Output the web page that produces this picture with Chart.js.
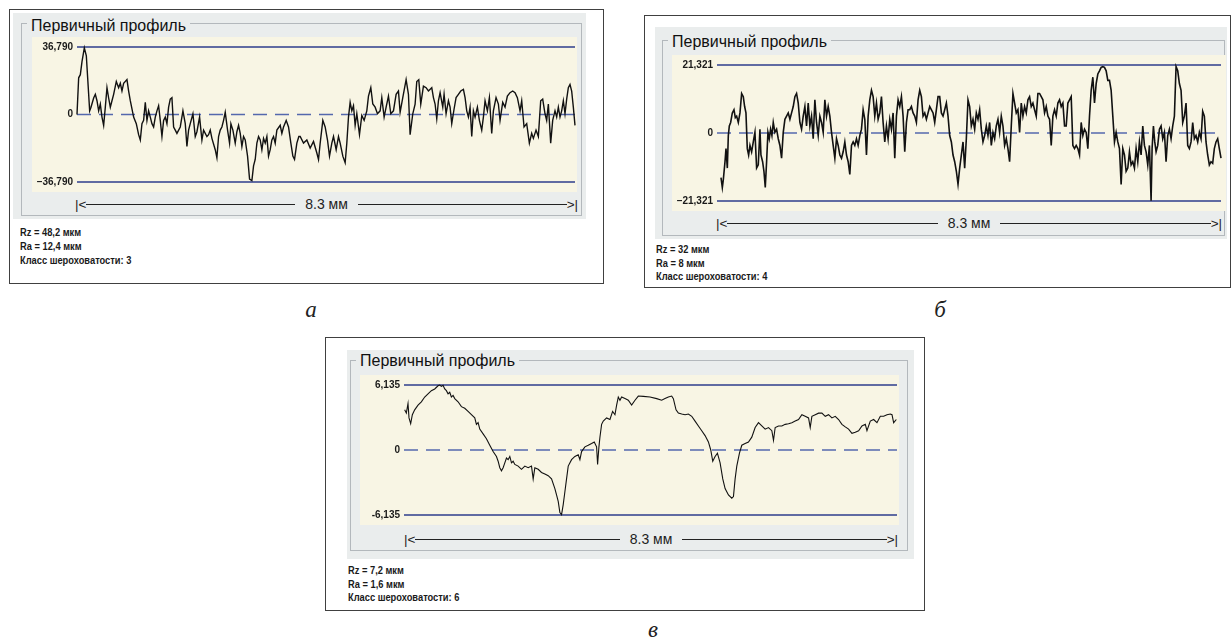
<!DOCTYPE html>
<html><head><meta charset="utf-8">
<script src="https://cdn.jsdelivr.net/npm/chart.js@4.4.1/dist/chart.umd.min.js"></script>
<style>
body{margin:0;width:1231px;height:641px;background:#fff;position:relative;overflow:hidden;font-family:"Liberation Sans",Arial,sans-serif;}
.abs{position:absolute;box-sizing:border-box;}
.outer{border:1.5px solid #404040;background:#fff;}
.grey{background:#eaeded;}
.gbox{border:1px solid #b3b8bc;}
.title{font-size:16px;line-height:18px;color:#111;background:#eaeded;padding:0 4px;white-space:nowrap;}
.cream{background:#f8f5e4;}
.stats{font-family:"Liberation Sans Narrow","Arial Narrow","Liberation Sans",sans-serif;font-weight:bold;font-size:10px;color:#1a1a1a;white-space:nowrap;transform:scaleX(0.93);transform-origin:0 0;}
.arrow{display:flex;align-items:center;font-size:13.5px;color:#222;height:16px;white-space:nowrap;}
.arrow .ln{flex:1;height:0;border-top:1.6px solid #222;}
.arrow .lbl{padding:0 10px;font-size:14px;}
.cap{font-family:"Liberation Serif","DejaVu Serif",serif;font-style:italic;font-size:23px;color:#222;text-align:center;width:30px;line-height:26px;}
canvas{position:absolute;}
</style>
</head>
<body>
<script>
// ---------- Panel а ----------
const aPos = [0,5,10,15,22,28,32,38,42,50,55,60,65,70,75,80,85,90,95,100,105,110,118,125,130,135,140,150,155,160,170,178,185,190,195,200,205,210,215,220,225,230,235,240,245,250,255,260,265,270,275,280,285,290,295,300,310,318,325,330,335,340,348,355,360,368,375,380,390,395,400,405,415,420,425,430,435,440,445,452,458,462,468,475,480,485,490,495,500,505,512,518,525,530,535,540,545,550,555,560,565,570,575,580,585,590,595,600,610,615,620,628,635,642,648,653,660,666,
670,680,690,700,710,720,725,730,738,745,752,758,765,770,778,785,790,798,805,810,815,820,825,830,835,840,848,855,862,870,875,882,888,895,902,910,915,922,928,935,942,950,958,965,970,978,988,995,1000,1008,1015,1020,1026,1032,1040,1048,1055,1065,1070,1075,1080,1085,1090,1098,1102,1108,1115,1120,1125,1132,1138,1145,1152,1160,1165,1170,1175,1180,1185,1190,1195,1202,1208,1215,1220,1225,1232,1238,1245,1250,1258,1265,1270,1278,1285,1292,1300,1308,1315,1322,1330,1335,1342,1350,1358,1365,1370,1378,1385,1392,1398,1405,1410,1415,1422,1428,1435,1440,1445,1450,1455,1460,1465,1470,1475,1480,1485,1490,1495];
const aVal = [0,20,21.7,28.8,36.3,32,20,2,4,9,11,7.5,2,5.7,-1.4,-5.9,4,14.6,9,4,7.5,11,18,14.6,17,12.8,17,19,12.8,7.5,-1.4,-5,-11,-13.9,-5,-3.2,6.6,-3.2,2,-1.4,-5,-6.8,-1.4,2,4.8,-3.2,-12,-3.2,-1.4,-5,4,8.4,9.2,-6.8,-8.5,-10.3,-6.8,2,-5,-17.4,-8.5,-5,0.4,-12,-9.4,-1.4,-13.9,-8.5,-12,-11,-8.5,-13,-19.2,-23.6,-12,-8.5,-6.8,-3.2,1.2,-8.5,-15.6,-5,-8.5,-15.6,-9.4,-5.9,-10.3,-17.4,-12,-13.9,-22.7,-35.2,-36,-28,-24.5,-15.6,-12,-13.9,-19.2,-13,-15.6,-12,-22.7,-19.2,-13.9,-12,-15.6,-8.5,-5.9,-10.3,-6.8,-3.2,-6.8,-15.6,-22.7,-24.5,-15.6,-12,
-12,-15.6,-13.9,-18.3,-14.7,-21,-24.5,-15.6,-3.2,-6.8,-13.9,-22.7,-15.6,-12,-19.2,-12,-15.6,-22.7,-26.3,-15.6,-1.4,6.6,2,4.8,-5.9,0.4,-11,-0.5,-3.2,2,10,14.6,5.7,4,0.4,2,9.2,-1.4,4,10,0.4,2,11,12.8,1.2,9.2,19,11,-11,0.4,5.7,18,19,5.7,15.5,14.6,12.8,14.6,9.2,5.7,-2.3,7.5,11.9,4,11,0.4,7.5,4,-5,3,9.2,11,12.8,13.7,9.2,2,-1.4,4,-12,2,-1.4,4,-3.2,-8.5,-1.4,7.5,2,9.2,-10.3,2,9.2,5.7,-3.2,6.6,4,10,11.9,12.8,11.9,9.2,2,7.5,-6.8,-5,-15.6,-10.3,-13,-8.5,-12,7.5,8.4,0.4,-3.2,5.7,-15.6,-3.2,2,-1.4,4,-1.4,2,7.5,0.4,8.4,14.6,16.4,12.8,4,-5.9];
const aRange = [0, 1495];
const aLimit = 36.79;
const aTickLabels = ['–36,790', '0', '36,790'];
const aStats = ['Rz = 48,2 мкм', 'Ra = 12,4 мкм', 'Класс шероховатости: 3'];

// ---------- Panel б ----------
const bPos = [0,4,7,12,15,19,22,25,29,34,39,43,47,52,57,62,67,71,75,79,83,87,92,97,102,107,112,117,120,125,129,133,137,141,145,149,153,157,162,167,172,177,182,187,192,197,202,207,212,217,222,227,232,237,242,247,252,257,262,267,272,277,282,287,292,297,302,307,312,317,322,327,332,337,342,347,352,357,362,367,372,377,382,387,392,397,402,407,412,417,422,427,432,437,442,447,452,457,462,467,472,477,482,487,492,497,502,507,512,517,522,527,532,537,542,547,552,557,562,567,572,577,582,587,592,597,602,607,612,617,622,
627,637,642,647,652,657,662,667,672,677,682,687,692,697,702,707,712,717,722,727,732,737,742,747,752,757,762,767,772,777,782,787,792,797,802,807,812,817,822,827,832,837,842,847,852,857,862,867,872,877,882,887,892,897,902,907,912,917,922,927,932,937,942,947,952,957,962,967,972,977,982,987,992,997,1002,1007,1012,1017,1022,1027,1032,1037,1042,1047,1052,1057,1062,1067,1072,1077,1082,1087,1092,1097,1102,1107,1112,1117,1122,1127,1132,1137,1142,1147,1152,1157,1162,1167,1172,1177,1182,1187,1192,1197,1202,1207,1212,1217,1222,1227,1232,1237,1242,1247,1252,1257,1262,1267,1272,1277,1282,1287,1292,1295,1299,1303,1307,1312,1317,1322,1327,1332,1337,1342,1347,1352,1357,1362,1367,1372,1377,1382,1387,1392,1397,1402,1407,1412,1417,1422,1427,1432,1437,1442,1447,1452,1457,1462,1467,1472,1477,1482,1487,1492,1497,1502];
const bVal = [-14,-17.1,-14.6,-9,-4.9,-11,-0.8,2.2,3.3,6.3,7.3,4.8,5.3,3.3,6.3,12.4,11.4,8.3,6.3,-4.9,-6.9,-3.9,-5.9,-2.8,0.2,-11,-10,1.2,-6.9,-9,-12,-17.1,-9,0.2,-1.8,1.2,-0.8,3.3,0.2,1.2,-1.8,-3.9,-7.9,0.2,4.3,5.3,6.3,4.3,6.3,8.3,11.4,12.4,9.4,3.3,1.2,5.3,8.3,2.2,9.4,2.2,5.3,-1.8,10.4,3.3,-0.8,5.3,3.3,0.2,10.4,5.3,8.3,5.3,0.2,-3.9,-7.9,-1.8,-3.9,-6.9,-7.9,-5.9,-2.8,-6.9,-9,-13,-3.9,-2.8,-3.9,-1.8,-3.9,-0.8,1.2,7.3,4.3,-6.9,5.3,10.4,13.4,11.4,5.3,9.4,4.3,6.3,11.4,3.3,-2.8,2.2,-1.8,4.3,1.2,6.3,-7.9,5.3,10.4,8.3,11.4,5.3,-5.9,3.3,7.3,7.3,8.3,6.3,5.3,3.3,10.4,13.4,11.4,5.3,6.3,4.3,6.3,
8.3,6.3,3.3,7.3,11.4,11.4,6.3,5.3,7.3,9.4,5.3,-0.8,-2.8,-6.9,-9,-12,-16.1,-11,-6.9,-2.8,-11,-1.8,10.4,8.3,2.2,4.3,1.2,6.3,4.3,7.3,1.2,-2.8,-0.8,2.2,-0.8,3.3,-3.9,0.2,-1.8,2.2,4.3,0.2,5.3,2.2,-3.9,-1.8,-4.9,-9,2.2,12.4,9.4,6.3,7.3,0.2,9.4,5.3,8.3,6.3,10.4,11.4,8.3,9.4,7.3,5.3,12.4,12.4,11.4,10.4,6.3,8.3,5.3,4.3,-3.9,5.3,7.3,5.3,9.4,10.4,8.3,9.4,2.2,2.2,9.4,10.4,11.4,-3.9,-4.9,-3.9,-4.9,-6.9,3.3,-0.8,1.2,0.2,-4.9,5.3,13.4,17.5,9.4,15.5,18.5,19.5,20.6,20.8,20.6,19.5,16.5,16.5,13.4,5.3,-2.8,0.2,-2.8,-4.9,-16.1,-4.9,-6.9,-12,-11,-5.9,-10,-9,-11,-4.9,-9,-2.8,-6.9,2.2,-3.9,-5.9,-10,-3.9,-21.2,-4.9,2.2,-2.8,-5.9,-3.9,1.2,2.2,-1.8,0.2,-9,-0.8,1.2,-1.8,2.2,5.3,20.8,19.5,15.5,13.4,3.3,5.3,9.4,-3.9,-4.9,-2.8,3.3,-1.8,-0.8,-2.8,0.2,-1.8,6.8,5.3,-2.8,-6.9,-10,-9,-9.5,-4.9,-2.8,-1.8,-4.9,-7.9];
const bRange = [-12, 1502];
const bLimit = 21.321;
const bTickLabels = ['–21,321', '0', '21,321'];
const bStats = ['Rz = 32 мкм', 'Ra = 8 мкм', 'Класс шероховатости: 4'];

// ---------- Panel в ----------
const cPos = [0,5,10,13,18,23,30,40,50,60,70,80,90,100,105,110,115,120,125,130,135,140,145,150,160,170,180,190,200,210,215,220,225,235,245,255,265,275,280,285,290,295,300,305,310,315,320,325,330,340,350,360,370,380,385,390,400,410,420,430,440,450,455,460,465,470,475,480,485,490,500,510,520,525,530,540,550,560,568,575,578,582,
585,590,595,605,615,623,630,635,640,645,650,660,670,680,690,700,715,735,755,770,780,790,800,805,813,820,830,840,850,860,870,880,890,900,910,917,923,930,937,945,953,960,970,980,985,990,995,1003,1010,1020,1030,1040,1050,1060,1070,1080,1090,1100,1105,1110,1120,1130,1140,1150,1160,1170,1180,1190,1200,1210,1215,1220,1230,1240,1250,1260,1270,1280,1290,1300,1310,1320,1330,1340,1350,1360,1370,1380,1385,1395,1405,1415,1425,1435,1445,1455,1460,1465,1473];
const cVal = [3.79,3.48,4.39,3.03,2.48,3.33,3.79,4.24,4.55,5.0,5.3,5.6,5.76,6.06,6.13,6.0,6.1,5.76,5.6,5.3,5.45,5.0,5.15,4.85,4.55,4.09,3.94,3.64,3.33,3.03,2.42,2.58,1.97,1.52,1.06,0.45,-0.15,-0.61,-1.06,-1.67,-1.97,-1.67,-1.21,-0.76,-0.91,-0.61,-1.21,-1.06,-1.36,-1.52,-1.82,-1.52,-1.67,-1.52,-2.73,-1.67,-1.82,-2.12,-2.27,-2.42,-2.73,-3.64,-4.24,-4.85,-5.91,-6.1,-5.15,-3.94,-2.73,-1.52,-0.91,-0.61,-0.45,-0.91,-0.15,0.3,0.45,0.61,0.76,0.3,-1.36,0.3,
1.2,2.42,2.73,3.03,2.88,3.64,3.33,4.24,5.0,4.7,5.0,4.85,4.7,4.24,4.7,5.09,5.06,5.0,4.85,4.7,4.85,5.0,5.09,4.85,3.79,3.48,3.39,3.33,3.39,3.18,2.73,2.27,1.82,1.36,0.76,0,-1.06,-0.61,-0.3,-1.21,-2.73,-3.64,-4.24,-4.55,-4.39,-2.73,-1.52,-0.3,0.45,0.61,0.76,1.21,2.12,2.58,2.27,1.97,2.12,1.82,0.91,2.12,2.27,2.27,2.42,2.48,2.58,2.73,2.88,3.33,3.18,3.03,2.12,3.18,3.33,3.48,3.48,3.18,3.33,3.03,3.18,2.88,2.42,2.18,1.97,1.58,1.67,1.82,2.27,2.42,1.82,2.73,2.88,2.58,3.18,3.18,3.33,3.39,3.33,2.58,2.88];
const cRange = [-2, 1475];
const cLimit = 6.135;
const cTickLabels = ['-6,135', '0', '6,135'];
const cStats = ['Rz = 7,2 мкм', 'Ra = 1,6 мкм', 'Класс шероховатости: 6'];

const panelTitle = 'Первичный профиль';
const lengthLabel = '8.3 мм';
const captions = ['а', 'б', 'в'];

// ---------- layout (geometry only) ----------
function box(cls, l, t, w, h, html) {
  const d = document.createElement('div');
  d.className = 'abs ' + cls;
  d.style.left = l + 'px'; d.style.top = t + 'px';
  if (w != null) d.style.width = w + 'px';
  if (h != null) d.style.height = h + 'px';
  if (html != null) d.innerHTML = html;
  document.body.appendChild(d);
  return d;
}

function panel(g, pos, val, range, limit, tickLabels, stats, caption) {
  box('outer', g.outer[0], g.outer[1], g.outer[2], g.outer[3]);
  box('grey', g.grey[0], g.grey[1], g.grey[2], g.grey[3]);
  box('gbox', g.gbox[0], g.gbox[1], g.gbox[2], g.gbox[3]);
  const t = box('title', g.title[0], g.title[1], null, null);
  t.textContent = panelTitle;
  box('cream', g.cream[0], g.cream[1], g.cream[2], g.cream[3]);
  const a = box('arrow', g.arrow[0], g.arrow[1], g.arrow[2], null);
  a.innerHTML = '<span>|&lt;</span><span class="ln"></span><span class="lbl"></span><span class="ln"></span><span>&gt;|</span>';
  a.querySelector('.lbl').textContent = lengthLabel;
  const s = box('stats', g.stats[0], g.stats[1], null, null);
  s.style.lineHeight = g.statsLH + 'px';
  s.innerHTML = stats.map(x => '<div></div>').join('');
  s.querySelectorAll('div').forEach((d, i) => d.textContent = stats[i]);
  const c = box('cap', g.cap[0] - 15, g.cap[1] - 13, null, null);
  c.textContent = caption;

  const cv = document.createElement('canvas');
  cv.width = g.cream[2]; cv.height = g.cream[3];
  cv.style.left = g.cream[0] + 'px'; cv.style.top = g.cream[1] + 'px';
  document.body.appendChild(cv);

  const refLine = (y, dash, color) => ({
    data: [{x: range[0], y: y}, {x: range[1], y: y}],
    borderColor: color, borderWidth: 1.5, borderDash: dash, pointRadius: 0, clip: 6
  });

  new Chart(cv, {
    type: 'line',
    data: {
      datasets: [
        {data: pos.map((p, i) => ({x: p, y: val[i]})), borderColor: '#111', borderWidth: g.lw,
         pointRadius: 0, tension: 0, clip: 6},
        refLine(limit, [], '#2e3d8c'),
        refLine(0, [14, 8], '#5468ad'),
        refLine(-limit, [], '#2e3d8c')
      ]
    },
    options: {
      responsive: false, animation: false, devicePixelRatio: 1,
      layout: {padding: {left: 0, right: g.pr, top: g.pt, bottom: g.pb}},
      plugins: {legend: {display: false}, tooltip: {enabled: false}},
      scales: {
        x: {type: 'linear', min: range[0], max: range[1], display: false},
        y: {
          min: -limit, max: limit,
          afterBuildTicks: s => { s.ticks = [{value: -limit}, {value: 0}, {value: limit}]; },
          afterFit: s => { s.width = g.yw; },
          grid: {display: false, drawTicks: false, tickLength: 0}, border: {display: false},
          ticks: {padding: 4, autoSkip: false, color: '#1a1a1a',
                  font: {family: 'Liberation Sans', size: 10, weight: 'bold'},
                  callback: (v, i) => tickLabels[i]}
        }
      }
    }
  });
}

panel({outer:[9,9,595,275], grey:[13,13,573,206], gbox:[21,23,561,193], title:[27,17],
       cream:[32,37,545,155], yw:45, pr:2, pt:8, pb:9, lw:1.4,
       arrow:[75,196,503], stats:[20,226], statsLH:14, cap:[311,310]},
      aPos, aVal, aRange, aLimit, aTickLabels, aStats, captions[0]);

panel({outer:[644,15,587,273], grey:[655,27,572,212], gbox:[662,40,563,196], title:[668,33],
       cream:[672,55,554,156], yw:45, pr:5, pt:8, pb:9, lw:1.6,
       arrow:[716,215,506], stats:[656,243], statsLH:13.5, cap:[940,310]},
      bPos, bVal, bRange, bLimit, bTickLabels, bStats, captions[1]);

panel({outer:[325,337,600,274], grey:[347,350,567,209], gbox:[350,360,558,191], title:[356,352],
       cream:[360,375,539,150], yw:44, pr:2, pt:8, pb:7, lw:1.1,
       arrow:[404,531,494], stats:[348,564], statsLH:13.5, cap:[653,630]},
      cPos, cVal, cRange, cLimit, cTickLabels, cStats, captions[2]);
</script>
</body></html>
